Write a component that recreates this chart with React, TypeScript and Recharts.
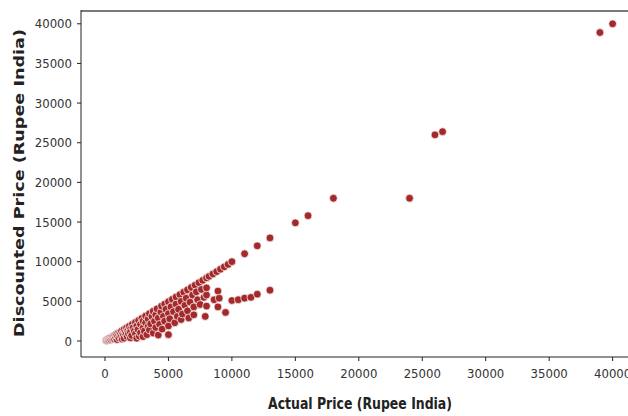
import React from 'react';
import { ScatterChart, Scatter, XAxis, YAxis, Label, CartesianGrid } from 'recharts';

// Dense cluster of products under ~10000 (actual / discounted price)
const clusterActual = [
  100, 150, 200, 250, 300, 350, 400, 450, 500, 550, 600, 650, 700, 750, 800, 850, 900, 950,
  1000, 1000, 1100, 1150, 1200, 1250, 1300, 1350, 1400, 1450, 1500, 1500, 1600, 1650, 1700,
  1750, 1800, 1850, 1900, 2000, 2000, 2000, 2100, 2150, 2200, 2300, 2400, 2400, 2500, 2500,
  2600, 2650, 2700, 2800, 2800, 2900, 3000, 3000, 3000, 3100, 3200, 3200, 3300, 3400, 3400,
  3500, 3500, 3600, 3700, 3800, 3800, 3900, 4000, 4000, 4100, 4200, 4200, 4300, 4400, 4450,
  4500, 4600, 4700, 4700, 4800, 5000, 5000, 5000, 5000, 5100, 5200, 5300, 5400, 5500, 5600,
  5600, 5700, 5800, 5900, 6000, 6000, 6100, 6200, 6300, 6400, 6500, 6500, 6600, 6700, 6800,
  6900, 7000, 7000, 7100, 7200, 7300, 7400, 7500, 7600, 7700, 7800, 7900, 8000, 8000, 8000,
  8000, 8200, 8500, 8600, 8800, 8900, 8900, 9000, 9100, 9400, 9500, 9700,
];
const clusterDiscounted = [
  90, 60, 180, 120, 280, 150, 350, 200, 450, 280, 520, 330, 640, 250, 720, 420, 850, 180,
  950, 600, 380, 1050, 820, 500, 1250, 250, 950, 700, 1450, 350, 1150, 800, 1650,
  550, 1300, 950, 1850, 1500, 1100, 400, 700, 2100, 1650, 1250, 2350, 900, 1900, 350,
  1450, 2600, 600, 2100, 1050, 2850, 1650, 2500, 550, 1250, 3150, 2300, 800, 1850, 2800,
  3450, 1400, 2150, 3100, 3750, 1000, 2500, 1700, 3300, 4050, 2900, 750, 2100, 3650, 4400,
  1500, 3100, 4650, 2500, 4000, 4950, 3450, 1900, 800, 2800, 4300, 5250, 3700, 2300, 5550,
  4650, 3100, 4000, 5850, 5000, 2700, 3400, 6150, 4500, 5400, 6450, 3800, 2900, 4900, 6750,
  5800, 3300, 4300, 7050, 6200, 5200, 7350, 4600, 6500, 7650, 5500, 3100, 7950, 4400, 5800,
  6700, 8150, 8450, 5200, 8750, 6300, 4300, 5400, 9050, 9350, 3600, 9650,
];

// Higher-priced products
const upperActual = [
  10000, 10000, 10500, 11000, 11000, 11500, 12000, 12000, 13000, 13000, 15000, 16000, 18000,
  24000, 26000, 26600, 39000, 40000,
];
const upperDiscounted = [
  10000, 5100, 5200, 11000, 5400, 5500, 12000, 5900, 13000, 6400, 14900, 15800, 18000, 18000,
  26000, 26400, 38900, 40000,
];

const xTicks = [0, 5000, 10000, 15000, 20000, 25000, 30000, 35000, 40000];
const yTicks = [0, 5000, 10000, 15000, 20000, 25000, 30000, 35000, 40000];

const points = [
  ...clusterActual.map((a, i) => ({ actual: a, discounted: clusterDiscounted[i] })),
  ...upperActual.map((a, i) => ({ actual: a, discounted: upperDiscounted[i] })),
];

const tickFont = { fill: '#333', fontSize: 13, fontFamily: '"DejaVu Sans Condensed", "DejaVu Sans", sans-serif' };

const Dot = (props: any) => (
  <circle cx={props.cx} cy={props.cy} r={3.9} fill="#a3292b" stroke="#ffffff" strokeWidth={0.7} />
);

export default function App() {
  return (
    <div style={{ position: 'absolute', left: 0, top: 0, width: 628, height: 416, overflow: 'hidden', background: '#fff' }}>
      <ScatterChart width={660} height={416} margin={{ top: 10, right: 22, bottom: 0, left: 0 }}>
        {/* top spine */}
        <CartesianGrid vertical={false} horizontalPoints={[11]} stroke="#7a7a7a" strokeWidth={2} strokeOpacity={1} />
        <XAxis
          type="number"
          dataKey="actual"
          domain={[-1890, 42000]}
          ticks={xTicks}
          allowDataOverflow
          height={59}
          tick={tickFont}
          tickSize={4}
          tickMargin={8}
          stroke="#222"
        >
          <Label
            content={() => (
              <text
                x={360}
                y={409}
                textAnchor="middle"
                textLength={184}
                lengthAdjust="spacingAndGlyphs"
                style={{ fontFamily: '"DejaVu Sans Condensed", "DejaVu Sans", sans-serif', fontWeight: 'bold', fontSize: 15, fill: '#222' }}
              >
                Actual Price (Rupee India)
              </text>
            )}
          />
        </XAxis>
        <YAxis
          type="number"
          dataKey="discounted"
          domain={[-2020, 41740]}
          ticks={yTicks}
          allowDataOverflow
          width={81}
          tick={tickFont}
          tickSize={4}
          tickMargin={5}
          stroke="#222"
        >
          <Label
            content={() => (
              <text
                x={0}
                y={0}
                transform="translate(24,183) rotate(-90)"
                textAnchor="middle"
                textLength={308}
                lengthAdjust="spacingAndGlyphs"
                style={{ fontFamily: '"DejaVu Sans", sans-serif', fontWeight: 'bold', fontSize: 14, fill: '#222' }}
              >
                Discounted Price (Rupee India)
              </text>
            )}
          />
        </YAxis>
        <Scatter data={points} shape={Dot} isAnimationActive={false} />
      </ScatterChart>
    </div>
  );
}
